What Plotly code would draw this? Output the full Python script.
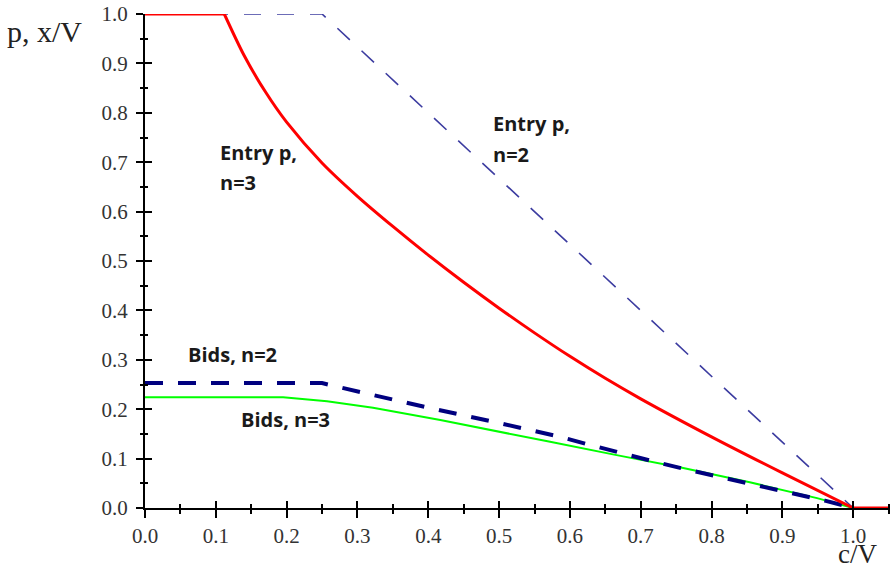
import plotly.graph_objects as go

# Entry probability, n=3 (red): flat part, curved part, tail
entry3_flat_x = [0, 0.112]
entry3_flat_y = [1, 1]
entry3_x = [0.112, 0.14, 0.17, 0.2, 0.25, 0.3, 0.35, 0.4, 0.45, 0.5, 0.55, 0.6, 0.65, 0.7, 0.8, 0.9, 1.0]
entry3_y = [1.0, 0.916, 0.8425, 0.781, 0.6985, 0.631, 0.570, 0.512, 0.457, 0.4045, 0.3545, 0.307, 0.2625, 0.221, 0.144, 0.071, 0.0]
entry3_tail_x = [1.0, 1.052]
entry3_tail_y = [0, 0]

# Entry probability, n=2 (blue dashed)
entry2_x = [0, 0.25, 1.0]
entry2_y = [1, 1, 0]

# Bids, n=2 (navy thick dashed)
bids2_x = [0, 0.25, 0.27, 0.30, 0.36, 0.40, 0.50, 0.586, 0.633, 0.68, 0.727, 0.774, 0.822, 0.869, 0.915, 0.96, 1.0]
bids2_y = [0.253, 0.253, 0.246, 0.236, 0.217, 0.203, 0.172, 0.144, 0.126, 0.108, 0.091, 0.075, 0.06, 0.045, 0.03, 0.015, 0]

# Bids, n=3 (green)
bids3_x = [0, 0.195, 0.257, 0.322, 0.417, 0.5, 0.572, 0.666, 0.76, 0.854, 0.949, 1.0]
bids3_y = [0.224, 0.224, 0.216, 0.203, 0.178, 0.155, 0.134, 0.107, 0.081, 0.052, 0.02, 0]

tick_vals = [round(i * 0.1, 1) for i in range(11)]
tick_text = [f"{v:.1f}" for v in tick_vals]

fig = go.Figure()
fig.add_trace(go.Scatter(x=bids3_x, y=bids3_y, mode="lines", cliponaxis=False,
                         line=dict(color="#00ff00", width=2)))
fig.add_trace(go.Scatter(x=bids2_x, y=bids2_y, mode="lines", cliponaxis=False,
                         line=dict(color="#00007f", width=4, dash="18px,15px")))
fig.add_trace(go.Scatter(x=entry2_x, y=entry2_y, mode="lines", cliponaxis=False,
                         line=dict(color="#3c3ca0", width=1.6, dash="17px,16px")))
red = dict(color="#ff0000", width=3)
fig.add_trace(go.Scatter(x=entry3_flat_x, y=entry3_flat_y, mode="lines", cliponaxis=False, line=red))
fig.add_trace(go.Scatter(x=entry3_x, y=entry3_y, mode="lines", cliponaxis=False,
                         line=dict(red, shape="spline", smoothing=0.8)))
fig.add_trace(go.Scatter(x=entry3_tail_x, y=entry3_tail_y, mode="lines", cliponaxis=False, line=red))

XMAX = 1.052
tickfont = dict(family="Liberation Serif", size=21, color="#333333")
common = dict(showgrid=False, zeroline=False, showline=True, linecolor="black", linewidth=2,
              tickcolor="black", tickwidth=2)

fig.update_layout(
    width=892, height=568,
    margin=dict(l=145, r=2, t=14, b=60),
    paper_bgcolor="white", plot_bgcolor="white",
    showlegend=False,
    xaxis=dict(range=[0, XMAX], tickvals=tick_vals, ticktext=tick_text, ticks="outside", ticklen=8,
               tickfont=tickfont, ticklabeloverflow="allow",
               minor=dict(ticks="outside", ticklen=4, dtick=0.05, tickcolor="black", tickwidth=2),
               **common),
    yaxis=dict(range=[0, 1], tickvals=tick_vals, ticktext=tick_text, ticks="outside", ticklen=7,
               tickfont=tickfont, ticklabelstandoff=4, ticklabeloverflow="allow",
               minor=dict(ticks="outside", ticklen=3, dtick=0.05, tickcolor="black", tickwidth=2),
               **common),
    xaxis2=dict(range=[0, XMAX], overlaying="x", tickvals=tick_vals, ticks="inside", ticklen=7,
                showticklabels=False, minor=dict(ticks="inside", ticklen=4, dtick=0.05, tickcolor="black", tickwidth=2),
                **common),
    yaxis2=dict(range=[0, 1], overlaying="y", tickvals=tick_vals, ticks="inside", ticklen=7,
                showticklabels=False, minor=dict(ticks="inside", ticklen=3, dtick=0.05, tickcolor="black", tickwidth=2),
                **common),
)
# invisible trace to activate secondary axes
fig.add_trace(go.Scatter(x=[0], y=[0], xaxis="x2", yaxis="y2", mode="markers",
                         marker=dict(opacity=0), hoverinfo="skip"))

lab = dict(family="Open Sans", size=20, color="#1a1a1a")
def add_label(x, y, text, font=lab, ref="x", yref="y", yanchor="middle"):
    fig.add_annotation(x=x, y=y, xref=ref, yref=yref, text=text, showarrow=False,
                       xanchor="left", yanchor=yanchor, font=font, borderpad=0)

add_label(0.105, 0.719, "<b>Entry p,</b>")
add_label(0.105, 0.658, "<b>n=3</b>")
add_label(0.490, 0.779, "<b>Entry p,</b>")
add_label(0.490, 0.715, "<b>n=2</b>")
add_label(0.060, 0.31, "<b>Bids, n=2</b>")
add_label(0.134, 0.180, "<b>Bids, n=3</b>")

axis_font = dict(family="Liberation Serif", size=30, color="#222222")
add_label(-0.186, 0.965, "p, x/V", font=axis_font, ref="paper", yref="paper")
add_label(0.929, -0.1255, "c/V", font=dict(family="Liberation Serif", size=27, color="#222222"),
          ref="paper", yref="paper", yanchor="bottom")

fig.write_html("out.html", config={"displayModeBar": False},
               post_script="document.body.style.margin='0';document.body.style.overflow='hidden';")
